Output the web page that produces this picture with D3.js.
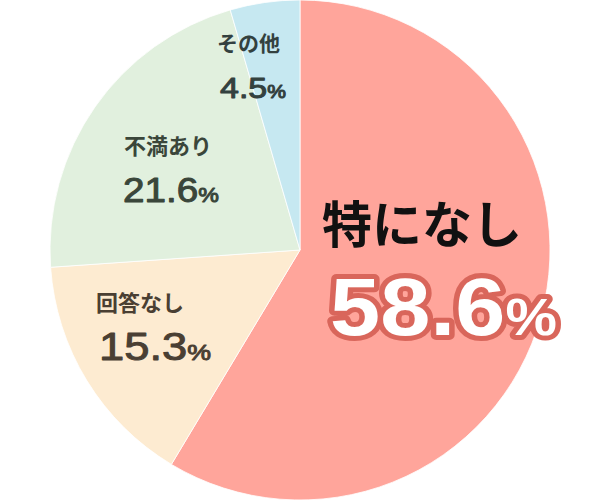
<!DOCTYPE html>
<html><head><meta charset="utf-8">
<script src="https://cdn.jsdelivr.net/npm/d3@7"></script>
<style>html,body{margin:0;padding:0;background:#fff;}svg{display:block;}</style>
</head><body>
<svg id="c" width="600" height="500"></svg>
<script>
const categories = ["特になし", "回答なし", "不満あり", "その他"];
const values = [58.6, 15.3, 21.6, 4.5];
const colors = ["#FFA59B", "#FDEBD1", "#E1F0DE", "#C6E8F1"];
const textColors = ["#111111", "#4A3F33", "#3A463A", "#33413F"];

const svg = d3.select("#c");
const cx = 300, cy = 250, R = 250;
const g = svg.append("g").attr("transform", `translate(${cx},${cy})`);
const pie = d3.pie().sort(null).value(d => d)(values);
const arc = d3.arc().innerRadius(0).outerRadius(R);
g.selectAll("path").data(pie).enter().append("path")
  .attr("d", arc).attr("fill", (d, i) => colors[i])
  .attr("stroke", "#fff").attr("stroke-width", 0.8);

const jpFont = "'Noto Sans CJK JP', 'Noto Sans', sans-serif";
const numFont = "'Liberation Sans', Arial, sans-serif";
// [labelX, labelY, labelSize, numX, numY, numSize, pctSize, numWidth]
const layout = [
  [322, 243, 50, 330, 335, 81, 52, 227],
  [96, 311, 22, 99, 360, 39, 23, 112],
  [124, 154, 22, 123, 202, 35, 21, 96],
  [217, 51, 21, 220, 98, 29, 18, 66]
];
categories.forEach((c, i) => {
  const L = layout[i];
  svg.append("text").attr("x", L[0]).attr("y", L[1])
    .attr("font-family", jpFont).attr("font-weight", 700)
    .attr("font-size", L[2]).attr("fill", textColors[i]).text(c);
  const t = svg.append("text").attr("x", 0).attr("y", 0)
    .attr("font-family", numFont).attr("font-weight", i === 0 ? 700 : 400)
    .attr("font-size", L[5]);
  t.append("tspan").text(values[i].toFixed(1));
  t.append("tspan").attr("font-size", L[6]).text("%");
  if (i === 0) {
    t.attr("fill", "#fff").attr("stroke", "#D9665B").attr("stroke-width", 10)
      .attr("stroke-linejoin", "round").attr("paint-order", "stroke");
  } else {
    t.attr("fill", textColors[i]).attr("stroke", textColors[i])
      .attr("stroke-width", 1).attr("stroke-linejoin", "round");
  }
  const w = t.node().getComputedTextLength();
  t.attr("transform", `translate(${L[3]},${L[4]}) scale(${L[7] / w},1)`);
});
</script>
</body></html>
